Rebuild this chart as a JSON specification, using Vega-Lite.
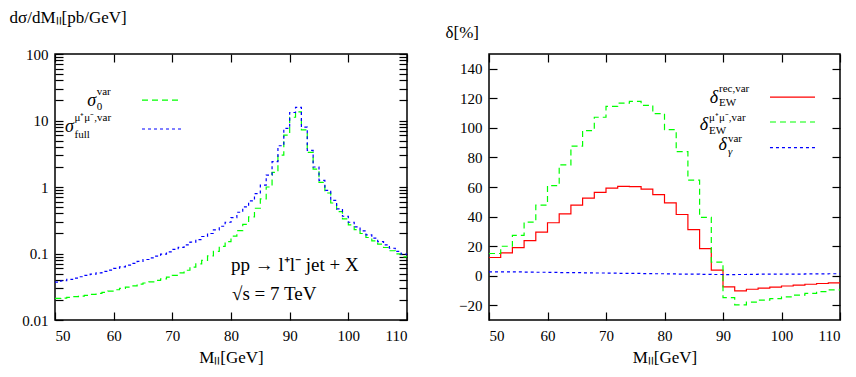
{
  "$schema": "https://vega.github.io/schema/vega-lite/v6.json",
  "padding": {"left": 8, "top": 7, "right": 5, "bottom": 5},
  "background": "white",
  "config": {
    "view": {"stroke": "black", "strokeWidth": 1.5},
    "font": "Liberation Serif",
    "style": {"guide-label": {"font": "Liberation Serif"}, "guide-title": {"font": "Liberation Serif"}},
    "axis": {"domain": false, "grid": false, "tickColor": "black", "tickWidth": 1.2, "labelFont": "Liberation Serif", "labelFontSize": 15, "labelColor": "black", "titleFont": "Liberation Serif", "titleFontSize": 17, "titleFontWeight": "normal", "titleColor": "black"},
    "text": {"font": "Liberation Serif", "color": "black"}
  },
  "datasets": {
    "L": [
      {"M":50,"s":"g","v":0.0211},{"M":51,"s":"g","v":0.0214},{"M":52,"s":"g","v":0.0219},{"M":53,"s":"g","v":0.0224},{"M":54,"s":"g","v":0.0229},{"M":55,"s":"g","v":0.0234},{"M":56,"s":"g","v":0.0243},{"M":57,"s":"g","v":0.0251},{"M":58,"s":"g","v":0.0260},{"M":59,"s":"g","v":0.0272},
      {"M":60,"s":"g","v":0.0285},{"M":61,"s":"g","v":0.0299},{"M":62,"s":"g","v":0.0313},{"M":63,"s":"g","v":0.0327},{"M":64,"s":"g","v":0.0347},{"M":65,"s":"g","v":0.0360},{"M":66,"s":"g","v":0.0375},{"M":67,"s":"g","v":0.0393},{"M":68,"s":"g","v":0.0415},{"M":69,"s":"g","v":0.0440},
      {"M":70,"s":"g","v":0.0470},{"M":71,"s":"g","v":0.0510},{"M":72,"s":"g","v":0.0560},{"M":73,"s":"g","v":0.0625},{"M":74,"s":"g","v":0.0700},{"M":75,"s":"g","v":0.0790},{"M":76,"s":"g","v":0.0920},{"M":77,"s":"g","v":0.108},{"M":78,"s":"g","v":0.128},{"M":79,"s":"g","v":0.151},
      {"M":80,"s":"g","v":0.182},{"M":81,"s":"g","v":0.221},{"M":82,"s":"g","v":0.275},{"M":83,"s":"g","v":0.355},{"M":84,"s":"g","v":0.479},{"M":85,"s":"g","v":0.661},{"M":86,"s":"g","v":1.00},{"M":87,"s":"g","v":1.66},{"M":88,"s":"g","v":3.02},{"M":89,"s":"g","v":6.03},
      {"M":90,"s":"g","v":11.2},{"M":91,"s":"g","v":13.5},{"M":92,"s":"g","v":7.24},{"M":93,"s":"g","v":3.31},{"M":94,"s":"g","v":1.86},{"M":95,"s":"g","v":1.17},{"M":96,"s":"g","v":0.813},{"M":97,"s":"g","v":0.575},{"M":98,"s":"g","v":0.427},{"M":99,"s":"g","v":0.331},
      {"M":100,"s":"g","v":0.269},{"M":101,"s":"g","v":0.229},{"M":102,"s":"g","v":0.200},{"M":103,"s":"g","v":0.174},{"M":104,"s":"g","v":0.155},{"M":105,"s":"g","v":0.138},{"M":106,"s":"g","v":0.123},{"M":107,"s":"g","v":0.110},{"M":108,"s":"g","v":0.0989},{"M":109,"s":"g","v":0.0891},{"M":110,"s":"g","v":0.0891},
      {"M":50,"s":"b","v":0.0372},{"M":51,"s":"b","v":0.0389},{"M":52,"s":"b","v":0.0407},{"M":53,"s":"b","v":0.0427},{"M":54,"s":"b","v":0.0447},{"M":55,"s":"b","v":0.0468},{"M":56,"s":"b","v":0.0490},{"M":57,"s":"b","v":0.0513},{"M":58,"s":"b","v":0.0537},{"M":59,"s":"b","v":0.0562},
      {"M":60,"s":"b","v":0.0596},{"M":61,"s":"b","v":0.0631},{"M":62,"s":"b","v":0.0668},{"M":63,"s":"b","v":0.0708},{"M":64,"s":"b","v":0.0759},{"M":65,"s":"b","v":0.0813},{"M":66,"s":"b","v":0.0861},{"M":67,"s":"b","v":0.0912},{"M":68,"s":"b","v":0.0977},{"M":69,"s":"b","v":0.106},
      {"M":70,"s":"b","v":0.115},{"M":71,"s":"b","v":0.124},{"M":72,"s":"b","v":0.135},{"M":73,"s":"b","v":0.148},{"M":74,"s":"b","v":0.162},{"M":75,"s":"b","v":0.180},{"M":76,"s":"b","v":0.200},{"M":77,"s":"b","v":0.226},{"M":78,"s":"b","v":0.257},{"M":79,"s":"b","v":0.295},
      {"M":80,"s":"b","v":0.347},{"M":81,"s":"b","v":0.417},{"M":82,"s":"b","v":0.501},{"M":83,"s":"b","v":0.617},{"M":84,"s":"b","v":0.794},{"M":85,"s":"b","v":1.07},{"M":86,"s":"b","v":1.51},{"M":87,"s":"b","v":2.40},{"M":88,"s":"b","v":4.17},{"M":89,"s":"b","v":7.59},
      {"M":90,"s":"b","v":13.2},{"M":91,"s":"b","v":15.8},{"M":92,"s":"b","v":7.94},{"M":93,"s":"b","v":3.55},{"M":94,"s":"b","v":2.00},{"M":95,"s":"b","v":1.26},{"M":96,"s":"b","v":0.891},{"M":97,"s":"b","v":0.631},{"M":98,"s":"b","v":0.468},{"M":99,"s":"b","v":0.363},
      {"M":100,"s":"b","v":0.295},{"M":101,"s":"b","v":0.251},{"M":102,"s":"b","v":0.219},{"M":103,"s":"b","v":0.191},{"M":104,"s":"b","v":0.170},{"M":105,"s":"b","v":0.151},{"M":106,"s":"b","v":0.135},{"M":107,"s":"b","v":0.120},{"M":108,"s":"b","v":0.108},{"M":109,"s":"b","v":0.0977},{"M":110,"s":"b","v":0.0977}
    ],
    "R": [
      {"M":50,"s":"r","v":12.3},{"M":52,"s":"r","v":15.4},{"M":54,"s":"r","v":19.0},{"M":56,"s":"r","v":23.7},{"M":58,"s":"r","v":29.5},{"M":60,"s":"r","v":35.8},{"M":62,"s":"r","v":41.8},{"M":64,"s":"r","v":47.8},{"M":66,"s":"r","v":52.5},{"M":68,"s":"r","v":56.4},
      {"M":70,"s":"r","v":59.3},{"M":72,"s":"r","v":60.4},{"M":74,"s":"r","v":60.2},{"M":76,"s":"r","v":58.6},{"M":78,"s":"r","v":54.8},{"M":80,"s":"r","v":49.2},{"M":82,"s":"r","v":41.4},{"M":84,"s":"r","v":31.1},{"M":86,"s":"r","v":18.3},{"M":88,"s":"r","v":3.8},
      {"M":90,"s":"r","v":-7.6},{"M":92,"s":"r","v":-10.3},{"M":94,"s":"r","v":-9.2},{"M":96,"s":"r","v":-8.4},{"M":98,"s":"r","v":-7.7},{"M":100,"s":"r","v":-7.0},{"M":102,"s":"r","v":-6.4},{"M":104,"s":"r","v":-5.8},{"M":106,"s":"r","v":-5.3},{"M":108,"s":"r","v":-4.9},{"M":110,"s":"r","v":-4.9},
      {"M":50,"s":"g","v":15.0},{"M":52,"s":"g","v":19.9},{"M":54,"s":"g","v":27.3},{"M":56,"s":"g","v":36.2},{"M":58,"s":"g","v":47.8},{"M":60,"s":"g","v":60.9},{"M":62,"s":"g","v":75.0},{"M":64,"s":"g","v":87.7},{"M":66,"s":"g","v":98.2},{"M":68,"s":"g","v":107.2},
      {"M":70,"s":"g","v":114.5},{"M":72,"s":"g","v":116.8},{"M":74,"s":"g","v":117.9},{"M":76,"s":"g","v":115.2},{"M":78,"s":"g","v":109.6},{"M":80,"s":"g","v":98.8},{"M":82,"s":"g","v":83.9},{"M":84,"s":"g","v":64.6},{"M":86,"s":"g","v":39.4},{"M":88,"s":"g","v":9.2},
      {"M":90,"s":"g","v":-14.8},{"M":92,"s":"g","v":-19.7},{"M":94,"s":"g","v":-17.9},{"M":96,"s":"g","v":-16.5},{"M":98,"s":"g","v":-15.5},{"M":100,"s":"g","v":-14.4},{"M":102,"s":"g","v":-13.2},{"M":104,"s":"g","v":-12.0},{"M":106,"s":"g","v":-10.8},{"M":108,"s":"g","v":-9.6},{"M":110,"s":"g","v":-9.6},
      {"M":50,"s":"b","v":2.6},{"M":52,"s":"b","v":2.6},{"M":54,"s":"b","v":2.5},{"M":56,"s":"b","v":2.4},{"M":58,"s":"b","v":2.3},{"M":60,"s":"b","v":2.2},{"M":62,"s":"b","v":2.1},{"M":64,"s":"b","v":2.0},{"M":66,"s":"b","v":1.9},{"M":68,"s":"b","v":1.8},
      {"M":70,"s":"b","v":1.7},{"M":72,"s":"b","v":1.6},{"M":74,"s":"b","v":1.5},{"M":76,"s":"b","v":1.4},{"M":78,"s":"b","v":1.3},{"M":80,"s":"b","v":1.2},{"M":82,"s":"b","v":1.1},{"M":84,"s":"b","v":1.0},{"M":86,"s":"b","v":0.9},{"M":88,"s":"b","v":0.8},
      {"M":90,"s":"b","v":0.7},{"M":92,"s":"b","v":0.8},{"M":94,"s":"b","v":0.9},{"M":96,"s":"b","v":1.0},{"M":98,"s":"b","v":1.0},{"M":100,"s":"b","v":1.1},{"M":102,"s":"b","v":1.1},{"M":104,"s":"b","v":1.2},{"M":106,"s":"b","v":1.2},{"M":108,"s":"b","v":1.3},{"M":110,"s":"b","v":1.3}
    ]
  },
  "spacing": 82,
  "bounds": "flush",
  "hconcat": [
    {
      "width": 352,
      "height": 266,
      "data": {"values": [{}]},
      "resolve": {"axis": {"x": "independent", "y": "independent"}},
      "layer": [
        {
          "data": {"name": "L"},
          "transform": [{"filter": "datum.s == 'g'"}],
          "mark": {"type": "line", "interpolate": "step-after", "color": "#00ff00", "strokeDash": [6, 4], "strokeWidth": 1.2},
          "encoding": {
            "x": {"field": "M", "type": "quantitative", "scale": {"domain": [50, 110], "nice": false, "zero": false},
              "axis": {"orient": "bottom", "values": [50, 60, 70, 80, 90, 100, 110], "tickSize": -8, "labelPadding": 16, "labelFont": "Liberation Serif", "title": "Mₗₗ[GeV]", "titleY": 37, "titleBaseline": "middle"}},
            "y": {"field": "v", "type": "quantitative", "scale": {"type": "log", "domain": [0.01, 100], "nice": false},
              "axis": {"orient": "left", "values": [0.01,0.02,0.03,0.04,0.05,0.06,0.07,0.08,0.09,0.1,0.2,0.3,0.4,0.5,0.6,0.7,0.8,0.9,1,2,3,4,5,6,7,8,9,10,20,30,40,50,60,70,80,90,100],
                "tickSize": -8, "labelPadding": 15, "labelOverlap": false, "labelFont": "Liberation Serif",
                "labelExpr": "abs(log(datum.value)/LN10 - round(log(datum.value)/LN10)) < 0.001 ? (datum.value >= 1 ? format(datum.value, 'd') : format(datum.value, '.2~f')) : ''",
                "title": "dσ/dMₗₗ[pb/GeV]", "titleAngle": 0, "titleAlign": "left", "titleBaseline": "middle", "titleX": -46, "titleY": -37,
                "encode": {"ticks": {"update": {"x2": [{"test": "abs(log(datum.value)/LN10 - round(log(datum.value)/LN10)) < 0.001", "value": 8}, {"value": 4}]}}}}}
          }
        },
        {
          "data": {"name": "L"},
          "transform": [{"filter": "datum.s == 'b'"}],
          "mark": {"type": "line", "interpolate": "step-after", "color": "#0000ff", "strokeDash": [3, 3], "strokeWidth": 1.2},
          "encoding": {
            "x": {"field": "M", "type": "quantitative", "axis": {"orient": "top", "values": [50, 60, 70, 80, 90, 100, 110], "tickSize": -8, "labels": false, "title": null}},
            "y": {"field": "v", "type": "quantitative",
              "axis": {"orient": "right", "values": [0.01,0.02,0.03,0.04,0.05,0.06,0.07,0.08,0.09,0.1,0.2,0.3,0.4,0.5,0.6,0.7,0.8,0.9,1,2,3,4,5,6,7,8,9,10,20,30,40,50,60,70,80,90,100],
                "tickSize": -8, "labels": false, "title": null,
                "encode": {"ticks": {"update": {"x2": [{"test": "abs(log(datum.value)/LN10 - round(log(datum.value)/LN10)) < 0.001", "value": -8}, {"value": -4}]}}}}}
          }
        },
        {"mark": {"type": "rule", "color": "#00ff00", "strokeDash": [6, 4], "strokeWidth": 1.2},
          "encoding": {"x": {"datum": 64.83, "axis": null}, "x2": {"datum": 71.65}, "y": {"datum": 20.3, "axis": null}}},
        {"mark": {"type": "rule", "color": "#0000ff", "strokeDash": [3, 3], "strokeWidth": 1.2},
          "encoding": {"x": {"datum": 64.83, "axis": null}, "x2": {"datum": 71.65}, "y": {"datum": 7.45, "axis": null}}},
        {"mark": {"type": "text", "text": "σ", "fontSize": 18, "fontStyle": "italic", "align": "right", "baseline": "middle"},
          "encoding": {"x": {"datum": 57.0, "axis": null}, "y": {"datum": 19.6, "axis": null}}},
        {"mark": {"type": "text", "text": "var", "fontSize": 11, "align": "left", "baseline": "middle"},
          "encoding": {"x": {"datum": 57.1, "axis": null}, "y": {"datum": 26.5, "axis": null}}},
        {"mark": {"type": "text", "text": "0", "fontSize": 11, "align": "left", "baseline": "middle"},
          "encoding": {"x": {"datum": 57.1, "axis": null}, "y": {"datum": 16.0, "axis": null}}},
        {"mark": {"type": "text", "text": "σ", "fontSize": 18, "fontStyle": "italic", "align": "right", "baseline": "middle"},
          "encoding": {"x": {"datum": 53.24, "axis": null}, "y": {"datum": 7.98, "axis": null}}},
        {"mark": {"type": "text", "text": "μ⁺μ⁻,var", "fontSize": 11, "align": "left", "baseline": "middle"},
          "encoding": {"x": {"datum": 53.32, "axis": null}, "y": {"datum": 10.9, "axis": null}}},
        {"mark": {"type": "text", "text": "full", "fontSize": 11, "align": "left", "baseline": "middle"},
          "encoding": {"x": {"datum": 53.32, "axis": null}, "y": {"datum": 6.05, "axis": null}}},
        {"mark": {"type": "text", "text": "pp → l⁺l⁻ jet + X", "fontSize": 19, "align": "left", "baseline": "middle"},
          "encoding": {"x": {"datum": 80.0, "axis": null}, "y": {"datum": 0.0671, "axis": null}}},
        {"mark": {"type": "text", "text": "√s = 7 TeV", "fontSize": 19, "align": "left", "baseline": "middle"},
          "encoding": {"x": {"datum": 80.17, "axis": null}, "y": {"datum": 0.0249, "axis": null}}}
      ]
    },
    {
      "width": 351,
      "height": 266,
      "data": {"values": [{}]},
      "resolve": {"axis": {"x": "independent", "y": "independent"}},
      "layer": [
        {
          "data": {"name": "R"},
          "transform": [{"filter": "datum.s == 'r'"}],
          "mark": {"type": "line", "interpolate": "step-after", "color": "#ff0000", "strokeWidth": 1.2},
          "encoding": {
            "x": {"field": "M", "type": "quantitative", "scale": {"domain": [50, 110], "nice": false, "zero": false},
              "axis": {"orient": "bottom", "values": [50, 60, 70, 80, 90, 100, 110], "tickSize": -8, "labelPadding": 16, "labelFont": "Liberation Serif", "title": "Mₗₗ[GeV]", "titleY": 37, "titleBaseline": "middle"}},
            "y": {"field": "v", "type": "quantitative", "scale": {"domain": [-30, 150], "nice": false, "zero": false},
              "axis": {"orient": "left", "values": [-20, 0, 20, 40, 60, 80, 100, 120, 140], "tickSize": -8, "labelPadding": 15, "labelFont": "Liberation Serif",
                "title": "δ[%]", "titleAngle": 0, "titleAlign": "left", "titleBaseline": "middle", "titleX": -44, "titleY": -22}}
          }
        },
        {
          "data": {"name": "R"},
          "transform": [{"filter": "datum.s == 'g'"}],
          "mark": {"type": "line", "interpolate": "step-after", "color": "#00ff00", "strokeDash": [6, 4], "strokeWidth": 1.2},
          "encoding": {
            "x": {"field": "M", "type": "quantitative", "axis": {"orient": "top", "values": [50, 60, 70, 80, 90, 100, 110], "tickSize": -8, "labels": false, "title": null}},
            "y": {"field": "v", "type": "quantitative", "axis": {"orient": "right", "values": [-20, 0, 20, 40, 60, 80, 100, 120, 140], "tickSize": -8, "labels": false, "title": null}}
          }
        },
        {
          "data": {"name": "R"},
          "transform": [{"filter": "datum.s == 'b'"}],
          "mark": {"type": "line", "interpolate": "step-after", "color": "#0000ff", "strokeDash": [3, 3], "strokeWidth": 1.2},
          "encoding": {
            "x": {"field": "M", "type": "quantitative", "axis": null},
            "y": {"field": "v", "type": "quantitative", "axis": null}
          }
        },
        {"mark": {"type": "rule", "color": "#ff0000", "strokeWidth": 1.2},
          "encoding": {"x": {"datum": 98.03, "axis": null}, "x2": {"datum": 105.73}, "y": {"datum": 120.8, "axis": null}}},
        {"mark": {"type": "rule", "color": "#00ff00", "strokeDash": [6, 4], "strokeWidth": 1.2},
          "encoding": {"x": {"datum": 98.03, "axis": null}, "x2": {"datum": 105.73}, "y": {"datum": 104.0, "axis": null}}},
        {"mark": {"type": "rule", "color": "#0000ff", "strokeDash": [3, 3], "strokeWidth": 1.2},
          "encoding": {"x": {"datum": 98.03, "axis": null}, "x2": {"datum": 105.73}, "y": {"datum": 86.6, "axis": null}}},
        {"mark": {"type": "text", "text": "δ", "fontSize": 18, "fontStyle": "italic", "align": "right", "baseline": "middle"},
          "encoding": {"x": {"datum": 89.15, "axis": null}, "y": {"datum": 120.1, "axis": null}}},
        {"mark": {"type": "text", "text": "rec,var", "fontSize": 11, "align": "left", "baseline": "middle"},
          "encoding": {"x": {"datum": 89.32, "axis": null}, "y": {"datum": 126.0, "axis": null}}},
        {"mark": {"type": "text", "text": "EW", "fontSize": 11, "align": "left", "baseline": "middle"},
          "encoding": {"x": {"datum": 89.32, "axis": null}, "y": {"datum": 116.8, "axis": null}}},
        {"mark": {"type": "text", "text": "δ", "fontSize": 18, "fontStyle": "italic", "align": "right", "baseline": "middle"},
          "encoding": {"x": {"datum": 87.44, "axis": null}, "y": {"datum": 102.0, "axis": null}}},
        {"mark": {"type": "text", "text": "μ⁺μ⁻,var", "fontSize": 11, "align": "left", "baseline": "middle"},
          "encoding": {"x": {"datum": 87.61, "axis": null}, "y": {"datum": 106.8, "axis": null}}},
        {"mark": {"type": "text", "text": "EW", "fontSize": 11, "align": "left", "baseline": "middle"},
          "encoding": {"x": {"datum": 87.61, "axis": null}, "y": {"datum": 98.0, "axis": null}}},
        {"mark": {"type": "text", "text": "δ", "fontSize": 18, "fontStyle": "italic", "align": "right", "baseline": "middle"},
          "encoding": {"x": {"datum": 90.68, "axis": null}, "y": {"datum": 88.6, "axis": null}}},
        {"mark": {"type": "text", "text": "var", "fontSize": 11, "align": "left", "baseline": "middle"},
          "encoding": {"x": {"datum": 90.85, "axis": null}, "y": {"datum": 92.6, "axis": null}}},
        {"mark": {"type": "text", "text": "γ", "fontSize": 11, "fontStyle": "italic", "align": "left", "baseline": "middle"},
          "encoding": {"x": {"datum": 90.85, "axis": null}, "y": {"datum": 84.0, "axis": null}}}
      ]
    }
  ]
}
